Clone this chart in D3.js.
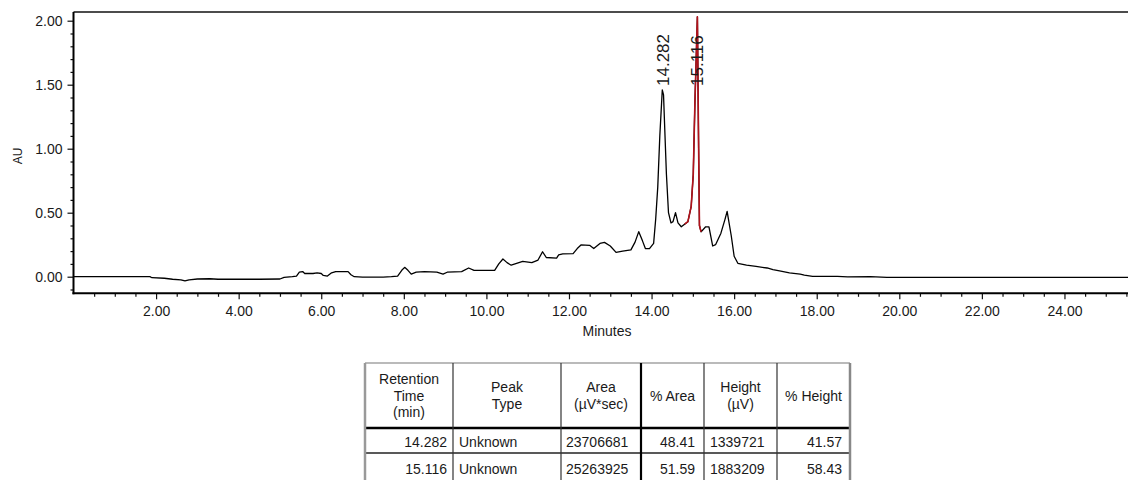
<!DOCTYPE html>
<html><head><meta charset="utf-8">
<script src="https://cdn.jsdelivr.net/npm/d3@7"></script>
<style>
body{margin:0;background:#fff}
svg{display:block;font-family:"Liberation Sans",Arial,sans-serif}
</style>
</head><body>
<svg id="c" width="1128" height="480"></svg>
<script>
// ---- data ----
const times = [0,1.85,1.9,2.2,2.4,2.6,2.7,2.8,3.0,3.3,3.5,3.7,4.0,4.5,5.0,5.1,5.3,5.4,5.47,5.55,5.6,5.8,5.9,6.0,6.05,6.15,6.25,6.35,6.65,6.72,6.8,7.0,7.5,7.7,7.85,7.95,8.02,8.1,8.18,8.3,8.5,8.8,8.95,9.05,9.4,9.57,9.7,10.2,10.3,10.4,10.5,10.6,10.88,11.1,11.25,11.36,11.45,11.7,11.75,11.85,12.1,12.2,12.29,12.5,12.6,12.75,12.86,13.0,13.14,13.3,13.5,13.6,13.69,13.78,13.85,13.95,14.05,14.1,14.15,14.2,14.26,14.29,14.32,14.36,14.41,14.47,14.52,14.58,14.64,14.72,14.8,14.88,14.96,15.01,15.05,15.11,15.14,15.16,15.2,15.31,15.39,15.48,15.55,15.68,15.78,15.83,15.93,16.0,16.09,16.3,16.53,16.8,16.94,17.1,17.34,17.6,17.7,17.9,18.5,18.75,19.3,19.7,20.0,25.6];
const au    = [0,0,-0.008,-0.012,-0.02,-0.025,-0.033,-0.025,-0.018,-0.016,-0.02,-0.02,-0.02,-0.02,-0.018,-0.005,0.0,0.005,0.035,0.04,0.025,0.025,0.03,0.025,0.01,0.005,0.03,0.04,0.04,0.015,0.0,-0.003,-0.003,0.0,0.005,0.05,0.073,0.05,0.02,0.035,0.04,0.035,0.02,0.035,0.04,0.068,0.05,0.05,0.1,0.138,0.11,0.09,0.12,0.11,0.13,0.195,0.15,0.145,0.17,0.178,0.18,0.22,0.248,0.245,0.22,0.26,0.268,0.24,0.19,0.2,0.21,0.27,0.352,0.28,0.22,0.22,0.26,0.45,0.7,1.1,1.46,1.42,1.15,0.8,0.5,0.42,0.43,0.5,0.42,0.39,0.41,0.43,0.55,0.8,1.36,2.03,1.0,0.4,0.35,0.39,0.39,0.24,0.25,0.34,0.45,0.51,0.32,0.16,0.105,0.09,0.08,0.068,0.055,0.045,0.03,0.02,0.012,0.002,0.002,-0.002,0.0,-0.005,-0.006,-0.006];
const peakTimes  = [14.282, 15.116];
const peakLabels = ["14.282", "15.116"];
const integratedPeak = [14.78, 15.2];   // start / end of the red (integrated) peak
const xMajorTicks = [2,4,6,8,10,12,14,16,18,20,22,24];
const yMajorTicks = [0,0.5,1,1.5,2];
const tableHeaders = [["Retention","Time","(min)"],["Peak","Type"],["Area","(\u00b5V*sec)"],["% Area"],["Height","(\u00b5V)"],["% Height"]];
const retentionTimes = ["14.282","15.116"];
const peakTypes      = ["Unknown","Unknown"];
const areas          = ["23706681","25263925"];
const pctAreas       = ["48.41","51.59"];
const heights        = ["1339721","1883209"];
const pctHeights     = ["41.57","58.43"];

// ---- layout ----
const svg = d3.select("#c");
const X0 = 73.5, PX_PER_MIN = 41.29;
const x = d3.scaleLinear().domain([0, 25.6]).range([X0, X0 + 25.6*PX_PER_MIN]);
const y = d3.scaleLinear().domain([0, 2]).range([276.7, 20.7]);
const TOP = 12, BOTTOM = 293.3, RIGHT = 1128;
const txt = "#1a1a1a";

// frame
svg.append("line").attr("x1",X0).attr("x2",RIGHT).attr("y1",TOP).attr("y2",TOP).attr("stroke","#111").attr("stroke-width",1.5);

// x axis
const xMinor = d3.range(0.5, 25.6, 0.5).filter(v => Math.abs(v/2 - Math.round(v/2)) > 1e-6);
const gxm = svg.append("g").attr("transform",`translate(0,${BOTTOM})`)
  .call(d3.axisBottom(x).tickValues(xMinor).tickSize(3.5).tickFormat(""));
const gx = svg.append("g").attr("transform",`translate(0,${BOTTOM})`)
  .call(d3.axisBottom(x).tickValues(xMajorTicks).tickSize(6).tickPadding(7).tickFormat(d3.format(".2f")));
[gxm,gx].forEach(g => { g.select(".domain").remove(); g.selectAll("line").attr("stroke","#111").attr("stroke-width",1.2); });
gx.selectAll("text").attr("font-size",14).attr("fill",txt).attr("font-family","Liberation Sans, Arial, sans-serif");
svg.append("line").attr("x1",X0-1).attr("x2",RIGHT).attr("y1",BOTTOM).attr("y2",BOTTOM).attr("stroke","#000").attr("stroke-width",2);

// y axis
const yMinor = d3.range(-0.1, 2.05, 0.1).filter(v => Math.abs(v*2 - Math.round(v*2)) > 1e-6);
const gym = svg.append("g").attr("transform",`translate(${X0},0)`)
  .call(d3.axisLeft(y).tickValues(yMinor).tickSize(3).tickFormat(""));
const gy = svg.append("g").attr("transform",`translate(${X0},0)`)
  .call(d3.axisLeft(y).tickValues(yMajorTicks).tickSize(6).tickPadding(5).tickFormat(d3.format(".2f")));
[gym,gy].forEach(g => { g.select(".domain").remove(); g.selectAll("line").attr("stroke","#111").attr("stroke-width",1.2); });
gy.selectAll("text").attr("font-size",14).attr("fill",txt).attr("font-family","Liberation Sans, Arial, sans-serif");
svg.append("line").attr("x1",X0).attr("x2",X0).attr("y1",TOP).attr("y2",BOTTOM+1).attr("stroke","#000").attr("stroke-width",2);

// axis titles
svg.append("text").attr("transform","translate(22,156) rotate(-90)").attr("text-anchor","middle")
  .attr("font-size",12).attr("fill",txt).text("AU");
svg.append("text").attr("x",607).attr("y",336).attr("text-anchor","middle")
  .attr("font-size",14).attr("fill",txt).text("Minutes");

// trace
const pts = times.map((t,i) => [t, au[i]]);
const line = d3.line().x(d => x(d[0])).y(d => y(d[1]));
svg.append("path").datum(pts).attr("d",line).attr("fill","none").attr("stroke","#000").attr("stroke-width",1.3).attr("stroke-linejoin","round");
const redPts = pts.filter(d => d[0] >= integratedPeak[0] && d[0] <= integratedPeak[1]);
svg.append("path").datum(redPts).attr("d",line).attr("fill","none").attr("stroke","#b3121b").attr("stroke-width",1.6).attr("stroke-linejoin","round");

// peak labels (placed just above the taller peak's apex; same level for both)
const peakMax = t => d3.max(pts.filter(d => Math.abs(d[0]-t) < 0.06), d => d[1]);
svg.selectAll("text.pk").data(peakTimes).join("text").attr("class","pk")
  .attr("transform",(t) => `translate(${x(t)-0.5},${Math.max(y(peakMax(t))-5, 86)}) rotate(-90)`)
  .attr("dy","0.36em").attr("font-size",17).attr("fill",txt)
  .text((t,i) => peakLabels[i]);

// ---- table ----
const colEdges = [365,453,561,641,704,777,850];
const rowEdges = [363,428,453,479];
const colAlign = ["end","start","start","end","start","end"];
const colPad   = [6,6,5,9,6,8];
const tg = svg.append("g").attr("font-size",14).attr("fill",txt);
const hc = (rowEdges[0]+rowEdges[1])/2;
tableHeaders.forEach((lines,ci) => {
  const cx = (colEdges[ci]+colEdges[ci+1])/2;
  lines.forEach((s,li) => {
    tg.append("text").attr("x",cx).attr("y", hc + (li-(lines.length-1)/2)*16.5 + 5)
      .attr("text-anchor","middle").text(s);
  });
});
const rows = retentionTimes.map((r,i) => [r, peakTypes[i], areas[i], pctAreas[i], heights[i], pctHeights[i]]);
const rowBase = [447, 474];
rows.forEach((row,ri) => row.forEach((s,ci) => {
  const xx = colAlign[ci]==="end" ? colEdges[ci+1]-colPad[ci] : colEdges[ci]+colPad[ci];
  tg.append("text").attr("x",xx).attr("y",rowBase[ri]).attr("text-anchor",colAlign[ci]).text(s);
}));
// borders
const L = colEdges[0], R = colEdges[colEdges.length-1];
svg.append("line").attr("x1",L).attr("x2",R).attr("y1",rowEdges[0]).attr("y2",rowEdges[0]).attr("stroke","#777").attr("stroke-width",1.2);
svg.append("line").attr("x1",L).attr("x2",R).attr("y1",rowEdges[1]).attr("y2",rowEdges[1]).attr("stroke","#000").attr("stroke-width",2.5);
svg.append("line").attr("x1",L).attr("x2",R).attr("y1",rowEdges[2]).attr("y2",rowEdges[2]).attr("stroke","#222").attr("stroke-width",1.3);
colEdges.forEach((cx,i) => {
  let c="#333", w=1.2;
  if (i===0) { c="#999"; w=2.5; }
  else if (i===3) { c="#000"; w=2.2; }
  else if (i===colEdges.length-1) { c="#888"; w=2.5; }
  svg.append("line").attr("x1",cx).attr("x2",cx).attr("y1",rowEdges[0]).attr("y2",480).attr("stroke",c).attr("stroke-width",w);
});
</script>
</body></html>
